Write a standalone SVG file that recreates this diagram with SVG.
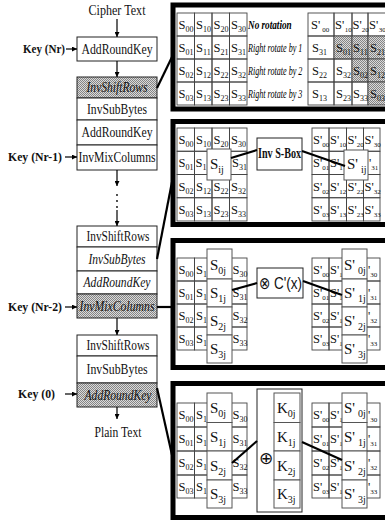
<svg xmlns="http://www.w3.org/2000/svg" width="385" height="521" viewBox="0 0 385 521">
<defs>
<pattern id="hatch" width="2" height="2" patternUnits="userSpaceOnUse">
<rect width="2" height="2" fill="#dadada"/>
<rect width="1" height="1" fill="#858585"/>
<rect x="1" y="1" width="1" height="1" fill="#858585"/>
</pattern>
<marker id="ah" viewBox="0 0 8 8" refX="8" refY="4" markerWidth="5" markerHeight="5" markerUnits="userSpaceOnUse" orient="auto"><path d="M0,0 L8,4 L0,8 z" fill="#000"/></marker>
</defs>
<style>
.bx{fill:#fff;stroke:#222;stroke-width:1}
.sh{fill:url(#hatch);stroke:#222;stroke-width:1}
.t{font-family:"Liberation Serif",serif;font-size:14px;text-anchor:middle;fill:#111}
.it{font-style:italic}
.key{font-family:"Liberation Serif",serif;font-size:12.5px;font-weight:bold;fill:#111}
.pn{fill:#fff;stroke:#000;stroke-width:5}
.gc{fill:none;stroke:#444;stroke-width:0.9}
.gs{fill:url(#hatch);stroke:#444;stroke-width:0.9}
.c{font-family:"Liberation Serif",serif;font-size:12.5px;fill:#111}
.sb{font-size:8px}
.sp{font-size:7px}
.cb{fill:#fff;stroke:#555;stroke-width:1}
.bg{font-family:"Liberation Serif",serif;font-size:15px;fill:#111}
.bsb{font-size:10px}
.lb{font-family:"Liberation Serif",serif;font-size:11.5px;font-style:italic;fill:#000}
.ln{stroke:#000;stroke-width:2.2;fill:none}
.ar{stroke:#000;stroke-width:1.2;fill:none;marker-end:url(#ah)}
</style>

<g id="flow">
<text class="t" x="117" y="15" textLength="57" lengthAdjust="spacingAndGlyphs">Cipher Text</text>
<g id="k-nr"><text class="key" x="23" y="53" textLength="42" lengthAdjust="spacingAndGlyphs">Key (Nr)</text></g>
<g id="b1"><rect class="bx" x="77" y="37" width="80" height="24"/><text class="t" x="117" y="54" textLength="71" lengthAdjust="spacingAndGlyphs">AddRoundKey</text></g>
<g id="b2"><rect class="sh" x="77" y="77" width="80" height="21"/><text class="t it" x="117" y="92" textLength="61" lengthAdjust="spacingAndGlyphs">InvShiftRows</text></g>
<g id="b3"><rect class="bx" x="77" y="98" width="80" height="22"/><text class="t" x="117" y="114" textLength="60" lengthAdjust="spacingAndGlyphs">InvSubBytes</text></g>
<g id="b4"><rect class="bx" x="77" y="120" width="80" height="25"/><text class="t" x="117" y="137" textLength="71" lengthAdjust="spacingAndGlyphs">AddRoundKey</text></g>
<g id="b5"><rect class="bx" x="77" y="145" width="80" height="25"/><text class="t" x="117" y="162" textLength="77" lengthAdjust="spacingAndGlyphs">InvMixColumns</text></g>
<g id="k-nr1"><text class="key" x="8" y="161" textLength="54" lengthAdjust="spacingAndGlyphs">Key (Nr-1)</text></g>
<g id="b6"><rect class="bx" x="77" y="226" width="80" height="21"/><text class="t" x="118" y="241" textLength="63" lengthAdjust="spacingAndGlyphs">InvShiftRows</text></g>
<g id="b7"><rect class="bx" x="77" y="247" width="80" height="24"/><text class="t it" x="117" y="264" textLength="57" lengthAdjust="spacingAndGlyphs">InvSubBytes</text></g>
<g id="b8"><rect class="bx" x="77" y="271" width="80" height="23"/><text class="t it" x="117" y="287" textLength="67" lengthAdjust="spacingAndGlyphs">AddRoundKey</text></g>
<g id="b9"><rect class="sh" x="77" y="294" width="80" height="24"/><text class="t it" x="117" y="311" textLength="75" lengthAdjust="spacingAndGlyphs">InvMixColumns</text></g>
<g id="k-nr2"><text class="key" x="8" y="311" textLength="54" lengthAdjust="spacingAndGlyphs">Key (Nr-2)</text></g>
<g id="b10"><rect class="bx" x="77" y="335" width="80" height="21"/><text class="t" x="118" y="350" textLength="63" lengthAdjust="spacingAndGlyphs">InvShiftRows</text></g>
<g id="b11"><rect class="bx" x="77" y="356" width="80" height="27"/><text class="t" x="117" y="374" textLength="61" lengthAdjust="spacingAndGlyphs">InvSubBytes</text></g>
<g id="b12"><rect class="sh" x="77" y="383" width="80" height="24"/><text class="t it" x="118" y="400" textLength="67" lengthAdjust="spacingAndGlyphs">AddRoundKey</text></g>
<g id="k-0"><text class="key" x="18" y="398" textLength="37" lengthAdjust="spacingAndGlyphs">Key (0)</text></g>
<text class="t" x="118" y="437" textLength="47" lengthAdjust="spacingAndGlyphs">Plain Text</text>
</g>

<g id="connectors">
<line class="ar" x1="117" y1="19" x2="117" y2="37"/>
<line class="ar" x1="117" y1="61" x2="117" y2="77"/>
<line class="ar" x1="117" y1="170" x2="117" y2="186"/>
<circle cx="117" cy="195" r="0.9" fill="#000"/>
<circle cx="117" cy="201" r="0.9" fill="#000"/>
<circle cx="117" cy="207" r="0.9" fill="#000"/>
<line class="ar" x1="117" y1="210" x2="117" y2="226"/>
<line class="ar" x1="117" y1="318" x2="117" y2="335"/>
<line class="ar" x1="117" y1="407" x2="117" y2="419"/>
<line class="ar" x1="66" y1="49" x2="77" y2="49"/>
<line class="ar" x1="65" y1="157" x2="77" y2="157"/>
<line class="ar" x1="65" y1="307" x2="77" y2="307"/>
<line class="ar" x1="65" y1="394" x2="77" y2="394"/>
<line class="ln" x1="157" y1="88" x2="172" y2="57"/>
<line class="ln" x1="157" y1="259" x2="172" y2="182"/>
<line class="ln" x1="157" y1="307" x2="172" y2="307" stroke-width="3"/>
<line class="ln" x1="157" y1="388" x2="172" y2="455"/>
</g>

<g id="panel1">
<rect class="pn" x="173" y="5" width="222" height="104"/>
<g>
<rect class="gc" x="177" y="13" width="17.5" height="23"/><rect class="gc" x="194.5" y="13" width="17.5" height="23"/><rect class="gc" x="212" y="13" width="17.5" height="23"/><rect class="gc" x="229.5" y="13" width="17.5" height="23"/>
<rect class="gc" x="177" y="36" width="17.5" height="23"/><rect class="gc" x="194.5" y="36" width="17.5" height="23"/><rect class="gc" x="212" y="36" width="17.5" height="23"/><rect class="gc" x="229.5" y="36" width="17.5" height="23"/>
<rect class="gc" x="177" y="59" width="17.5" height="23"/><rect class="gc" x="194.5" y="59" width="17.5" height="23"/><rect class="gc" x="212" y="59" width="17.5" height="23"/><rect class="gc" x="229.5" y="59" width="17.5" height="23"/>
<rect class="gc" x="177" y="82" width="17.5" height="23"/><rect class="gc" x="194.5" y="82" width="17.5" height="23"/><rect class="gc" x="212" y="82" width="17.5" height="23"/><rect class="gc" x="229.5" y="82" width="17.5" height="23"/>
<text class="c" x="178.5" y="29">S<tspan class="sb" dy="3">00</tspan></text><text class="c" x="196" y="29">S<tspan class="sb" dy="3">10</tspan></text><text class="c" x="213.5" y="29">S<tspan class="sb" dy="3">20</tspan></text><text class="c" x="231" y="29">S<tspan class="sb" dy="3">30</tspan></text>
<text class="c" x="178.5" y="52">S<tspan class="sb" dy="3">01</tspan></text><text class="c" x="196" y="52">S<tspan class="sb" dy="3">11</tspan></text><text class="c" x="213.5" y="52">S<tspan class="sb" dy="3">21</tspan></text><text class="c" x="231" y="52">S<tspan class="sb" dy="3">31</tspan></text>
<text class="c" x="178.5" y="75">S<tspan class="sb" dy="3">02</tspan></text><text class="c" x="196" y="75">S<tspan class="sb" dy="3">12</tspan></text><text class="c" x="213.5" y="75">S<tspan class="sb" dy="3">22</tspan></text><text class="c" x="231" y="75">S<tspan class="sb" dy="3">32</tspan></text>
<text class="c" x="178.5" y="98">S<tspan class="sb" dy="3">03</tspan></text><text class="c" x="196" y="98">S<tspan class="sb" dy="3">13</tspan></text><text class="c" x="213.5" y="98">S<tspan class="sb" dy="3">23</tspan></text><text class="c" x="231" y="98">S<tspan class="sb" dy="3">33</tspan></text>
</g>
<text class="lb" transform="translate(248,29) scale(0.8,1)" font-weight="bold">No rotation</text>
<text class="lb" transform="translate(248,52) scale(0.705,1)">Right rotate by 1</text>
<text class="lb" transform="translate(248,75) scale(0.705,1)">Right rotate by 2</text>
<text class="lb" transform="translate(248,98) scale(0.705,1)">Right rotate by 3</text>
<g>
<rect class="gc" x="308" y="13" width="26" height="23"/><rect class="gc" x="334" y="13" width="18" height="23"/><rect class="gc" x="352" y="13" width="16" height="23"/><rect class="gc" x="368" y="13" width="18" height="23"/>
<rect class="gc" x="308" y="36" width="26" height="23"/><rect class="gs" x="334" y="36" width="18" height="23"/><rect class="gs" x="352" y="36" width="16" height="23"/><rect class="gs" x="368" y="36" width="18" height="23"/>
<rect class="gc" x="308" y="59" width="26" height="23"/><rect class="gc" x="334" y="59" width="18" height="23"/><rect class="gs" x="352" y="59" width="16" height="23"/><rect class="gs" x="368" y="59" width="18" height="23"/>
<rect class="gc" x="308" y="82" width="26" height="23"/><rect class="gc" x="334" y="82" width="18" height="23"/><rect class="gc" x="352" y="82" width="16" height="23"/><rect class="gs" x="368" y="82" width="18" height="23"/>
<text class="c" x="311" y="29">S'<tspan class="sp" dx="2" dy="3">00</tspan></text><text class="c" x="335" y="29">S'<tspan class="sp" dx="0.5" dy="3">10</tspan></text><text class="c" x="352.5" y="29">S'<tspan class="sp" dy="3">20</tspan></text><text class="c" x="369" y="29">S'<tspan class="sp" dx="0.5" dy="3">30</tspan></text>
<text class="c" x="312" y="52">S<tspan class="sb" dy="3">31</tspan></text><text class="c" x="336" y="52">S<tspan class="sb" dy="3">01</tspan></text><text class="c" x="353" y="52">S<tspan class="sb" dy="3">11</tspan></text><text class="c" x="370" y="52">S<tspan class="sb" dy="3">21</tspan></text>
<text class="c" x="312" y="75">S<tspan class="sb" dy="3">22</tspan></text><text class="c" x="336" y="75">S<tspan class="sb" dy="3">32</tspan></text><text class="c" x="353" y="75">S<tspan class="sb" dy="3">02</tspan></text><text class="c" x="370" y="75">S<tspan class="sb" dy="3">12</tspan></text>
<text class="c" x="312" y="98">S<tspan class="sb" dy="3">13</tspan></text><text class="c" x="336" y="98">S<tspan class="sb" dy="3">23</tspan></text><text class="c" x="353" y="98">S<tspan class="sb" dy="3">33</tspan></text><text class="c" x="370" y="98">S<tspan class="sb" dy="3">03</tspan></text>
</g>
</g>

<g id="panel2">
<rect class="pn" x="173" y="121.5" width="222" height="103"/>
<g>
<rect class="gc" x="177" y="128" width="17.5" height="23.25"/><rect class="gc" x="194.5" y="128" width="17.5" height="23.25"/><rect class="gc" x="212" y="128" width="17.5" height="23.25"/><rect class="gc" x="229.5" y="128" width="17.5" height="23.25"/>
<rect class="gc" x="177" y="151.25" width="17.5" height="23.25"/><rect class="gc" x="194.5" y="151.25" width="17.5" height="23.25"/><rect class="gc" x="212" y="151.25" width="17.5" height="23.25"/><rect class="gc" x="229.5" y="151.25" width="17.5" height="23.25"/>
<rect class="gc" x="177" y="174.5" width="17.5" height="23.25"/><rect class="gc" x="194.5" y="174.5" width="17.5" height="23.25"/><rect class="gc" x="212" y="174.5" width="17.5" height="23.25"/><rect class="gc" x="229.5" y="174.5" width="17.5" height="23.25"/>
<rect class="gc" x="177" y="197.75" width="17.5" height="23.25"/><rect class="gc" x="194.5" y="197.75" width="17.5" height="23.25"/><rect class="gc" x="212" y="197.75" width="17.5" height="23.25"/><rect class="gc" x="229.5" y="197.75" width="17.5" height="23.25"/>
<text class="c" x="178.5" y="144">S<tspan class="sb" dy="3">00</tspan></text><text class="c" x="196" y="144">S<tspan class="sb" dy="3">10</tspan></text><text class="c" x="213.5" y="144">S<tspan class="sb" dy="3">20</tspan></text><text class="c" x="231" y="144">S<tspan class="sb" dy="3">30</tspan></text>
<text class="c" x="178.5" y="167">S<tspan class="sb" dy="3">01</tspan></text><text class="c" x="195.5" y="167">S<tspan class="sb" dy="3">1</tspan></text><text class="c" x="232" y="167">S<tspan class="sb" dy="3">31</tspan></text>
<text class="c" x="178.5" y="190.5">S<tspan class="sb" dy="3">02</tspan></text><text class="c" x="196" y="190.5">S<tspan class="sb" dy="3">12</tspan></text><text class="c" x="213.5" y="190.5">S<tspan class="sb" dy="3">22</tspan></text><text class="c" x="231" y="190.5">S<tspan class="sb" dy="3">32</tspan></text>
<text class="c" x="178.5" y="213.5">S<tspan class="sb" dy="3">03</tspan></text><text class="c" x="196" y="213.5">S<tspan class="sb" dy="3">13</tspan></text><text class="c" x="213.5" y="213.5">S<tspan class="sb" dy="3">23</tspan></text><text class="c" x="231" y="213.5">S<tspan class="sb" dy="3">33</tspan></text>
</g>
<g><rect class="cb" x="207" y="149" width="24" height="31"/><text class="bg" x="210" y="169">S<tspan class="bsb" dy="4">ij</tspan></text></g>
<g id="invsbox"><rect class="bx" x="257" y="138" width="45" height="32"/><text class="t" x="279.5" y="158" font-size="11" font-weight="bold" textLength="43" lengthAdjust="spacingAndGlyphs">Inv S-Box</text></g>
<g>
<rect class="gc" x="312" y="128" width="17" height="23.25"/><rect class="gc" x="329" y="128" width="17.5" height="23.25"/><rect class="gc" x="346.5" y="128" width="17" height="23.25"/><rect class="gc" x="363.5" y="128" width="16.5" height="23.25"/>
<rect class="gc" x="312" y="151.25" width="17" height="23.25"/><rect class="gc" x="329" y="151.25" width="17.5" height="23.25"/><rect class="gc" x="346.5" y="151.25" width="17" height="23.25"/><rect class="gc" x="363.5" y="151.25" width="16.5" height="23.25"/>
<rect class="gc" x="312" y="174.5" width="17" height="23.25"/><rect class="gc" x="329" y="174.5" width="17.5" height="23.25"/><rect class="gc" x="346.5" y="174.5" width="17" height="23.25"/><rect class="gc" x="363.5" y="174.5" width="16.5" height="23.25"/>
<rect class="gc" x="312" y="197.75" width="17" height="23.25"/><rect class="gc" x="329" y="197.75" width="17.5" height="23.25"/><rect class="gc" x="346.5" y="197.75" width="17" height="23.25"/><rect class="gc" x="363.5" y="197.75" width="16.5" height="23.25"/>
<text class="c" x="313" y="144">S'<tspan class="sp" dy="3">00</tspan></text><text class="c" x="330" y="144">S'<tspan class="sp" dy="3">10</tspan></text><text class="c" x="347.5" y="144">S'<tspan class="sp" dy="3">20</tspan></text><text class="c" x="364.5" y="144">S'<tspan class="sp" dy="3">30</tspan></text>
<text class="c" x="313" y="167">S'<tspan class="sp" dy="3">01</tspan></text><text class="c" x="330" y="167">S'<tspan class="sp" dy="3">1</tspan></text><text class="c" x="369" y="167">'<tspan class="sp" dy="3">31</tspan></text>
<text class="c" x="313" y="190.5">S'<tspan class="sp" dy="3">02</tspan></text><text class="c" x="330" y="190.5">S'<tspan class="sp" dy="3">12</tspan></text><text class="c" x="347.5" y="190.5">S'<tspan class="sp" dy="3">22</tspan></text><text class="c" x="364.5" y="190.5">S'<tspan class="sp" dy="3">32</tspan></text>
<text class="c" x="313" y="213.5">S'<tspan class="sp" dy="3">03</tspan></text><text class="c" x="330" y="213.5">S'<tspan class="sp" dy="3">13</tspan></text><text class="c" x="347.5" y="213.5">S'<tspan class="sp" dy="3">23</tspan></text><text class="c" x="364.5" y="213.5">S'<tspan class="sp" dy="3">33</tspan></text>
</g>
<g><rect class="cb" x="344" y="150" width="24" height="30"/><text class="bg" x="347" y="169">S'<tspan class="bsb" dx="3" dy="4">ij</tspan></text></g>
<line class="ln" x1="231" y1="158" x2="257" y2="150"/>
<line class="ln" x1="302" y1="151" x2="345" y2="166"/>
</g>

<g id="panel3">
<rect class="pn" x="173" y="240.5" width="222" height="127"/>
<g>
<rect class="gc" x="177" y="258" width="17.5" height="23"/><rect class="gc" x="194.5" y="258" width="17.5" height="23"/><rect class="gc" x="212" y="258" width="17.5" height="23"/><rect class="gc" x="229.5" y="258" width="17.5" height="23"/>
<rect class="gc" x="177" y="281" width="17.5" height="23"/><rect class="gc" x="194.5" y="281" width="17.5" height="23"/><rect class="gc" x="212" y="281" width="17.5" height="23"/><rect class="gc" x="229.5" y="281" width="17.5" height="23"/>
<rect class="gc" x="177" y="304" width="17.5" height="23"/><rect class="gc" x="194.5" y="304" width="17.5" height="23"/><rect class="gc" x="212" y="304" width="17.5" height="23"/><rect class="gc" x="229.5" y="304" width="17.5" height="23"/>
<rect class="gc" x="177" y="327" width="17.5" height="23"/><rect class="gc" x="194.5" y="327" width="17.5" height="23"/><rect class="gc" x="212" y="327" width="17.5" height="23"/><rect class="gc" x="229.5" y="327" width="17.5" height="23"/>
<text class="c" x="178.5" y="274">S<tspan class="sb" dy="3">00</tspan></text><text class="c" x="196" y="274">S<tspan class="sb" dy="3">1</tspan></text><text class="c" x="232.5" y="274">S<tspan class="sb" dy="3">30</tspan></text>
<text class="c" x="178.5" y="297">S<tspan class="sb" dy="3">01</tspan></text><text class="c" x="196" y="297">S<tspan class="sb" dy="3">1</tspan></text><text class="c" x="232.5" y="297">S<tspan class="sb" dy="3">31</tspan></text>
<text class="c" x="178.5" y="320">S<tspan class="sb" dy="3">02</tspan></text><text class="c" x="196" y="320">S<tspan class="sb" dy="3">1</tspan></text><text class="c" x="232.5" y="320">S<tspan class="sb" dy="3">32</tspan></text>
<text class="c" x="178.5" y="343">S<tspan class="sb" dy="3">03</tspan></text><text class="c" x="196" y="343">S<tspan class="sb" dy="3">1</tspan></text><text class="c" x="232.5" y="343">S<tspan class="sb" dy="3">33</tspan></text>
</g>
<g>
<rect class="cb" x="207" y="249" width="25" height="30"/><text class="bg" x="210" y="270">S<tspan class="bsb" dy="4">0j</tspan></text>
<rect class="cb" x="207" y="279" width="25" height="28"/><text class="bg" x="210" y="298">S<tspan class="bsb" dy="4">1j</tspan></text>
<rect class="cb" x="207" y="307" width="25" height="28"/><text class="bg" x="210" y="326">S<tspan class="bsb" dy="4">2j</tspan></text>
<rect class="cb" x="207" y="335" width="25" height="28"/><text class="bg" x="210" y="354">S<tspan class="bsb" dy="4">3j</tspan></text>
</g>
<g id="cx"><rect class="bx" x="257" y="268" width="46" height="30"/><text x="259" y="289" font-family="Liberation Sans,sans-serif" font-size="17" fill="#111" textLength="43" lengthAdjust="spacingAndGlyphs">⊗ C'(x)</text></g>
<g>
<rect class="gc" x="312" y="258" width="17" height="23"/><rect class="gc" x="329" y="258" width="17" height="23"/><rect class="gc" x="346" y="258" width="17" height="23"/><rect class="gc" x="363" y="258" width="17" height="23"/>
<rect class="gc" x="312" y="281" width="17" height="23"/><rect class="gc" x="329" y="281" width="17" height="23"/><rect class="gc" x="346" y="281" width="17" height="23"/><rect class="gc" x="363" y="281" width="17" height="23"/>
<rect class="gc" x="312" y="304" width="17" height="23"/><rect class="gc" x="329" y="304" width="17" height="23"/><rect class="gc" x="346" y="304" width="17" height="23"/><rect class="gc" x="363" y="304" width="17" height="23"/>
<rect class="gc" x="312" y="327" width="17" height="23"/><rect class="gc" x="329" y="327" width="17" height="23"/><rect class="gc" x="346" y="327" width="17" height="23"/><rect class="gc" x="363" y="327" width="17" height="23"/>
<text class="c" x="313" y="274">S'<tspan class="sp" dy="3">00</tspan></text><text class="c" x="330" y="274">S'<tspan class="sp" dy="3">1</tspan></text><text class="c" x="368" y="274">'<tspan class="sp" dy="3">30</tspan></text>
<text class="c" x="313" y="297">S'<tspan class="sp" dy="3">01</tspan></text><text class="c" x="330" y="297">S'<tspan class="sp" dy="3">1</tspan></text><text class="c" x="368" y="297">'<tspan class="sp" dy="3">31</tspan></text>
<text class="c" x="313" y="320">S'<tspan class="sp" dy="3">02</tspan></text><text class="c" x="330" y="320">S'<tspan class="sp" dy="3">1</tspan></text><text class="c" x="368" y="320">'<tspan class="sp" dy="3">32</tspan></text>
<text class="c" x="313" y="343">S'<tspan class="sp" dy="3">03</tspan></text><text class="c" x="330" y="343">S'<tspan class="sp" dy="3">1</tspan></text><text class="c" x="368" y="343">'<tspan class="sp" dy="3">33</tspan></text>
</g>
<g>
<rect class="cb" x="342" y="249" width="25" height="30"/><text class="bg" x="344" y="270">S'<tspan class="bsb" dx="3" dy="4">0j</tspan></text>
<rect class="cb" x="342" y="279" width="25" height="28"/><text class="bg" x="344" y="298">S'<tspan class="bsb" dx="3" dy="4">1j</tspan></text>
<rect class="cb" x="342" y="307" width="25" height="28"/><text class="bg" x="344" y="326">S'<tspan class="bsb" dx="3" dy="4">2j</tspan></text>
<rect class="cb" x="342" y="335" width="25" height="28"/><text class="bg" x="344" y="354">S'<tspan class="bsb" dx="3" dy="4">3j</tspan></text>
</g>
<line class="ln" x1="232" y1="290" x2="257" y2="283"/>
<line class="ln" x1="303" y1="281" x2="342" y2="295"/>
</g>

<g id="panel4">
<rect class="pn" x="173" y="383.5" width="222" height="134"/>
<g>
<rect class="gc" x="177" y="403" width="17.5" height="24"/><rect class="gc" x="194.5" y="403" width="17.5" height="24"/><rect class="gc" x="212" y="403" width="17.5" height="24"/><rect class="gc" x="229.5" y="403" width="17.5" height="24"/>
<rect class="gc" x="177" y="427" width="17.5" height="24"/><rect class="gc" x="194.5" y="427" width="17.5" height="24"/><rect class="gc" x="212" y="427" width="17.5" height="24"/><rect class="gc" x="229.5" y="427" width="17.5" height="24"/>
<rect class="gc" x="177" y="451" width="17.5" height="24"/><rect class="gc" x="194.5" y="451" width="17.5" height="24"/><rect class="gc" x="212" y="451" width="17.5" height="24"/><rect class="gc" x="229.5" y="451" width="17.5" height="24"/>
<rect class="gc" x="177" y="475" width="17.5" height="23"/><rect class="gc" x="194.5" y="475" width="17.5" height="23"/><rect class="gc" x="212" y="475" width="17.5" height="23"/><rect class="gc" x="229.5" y="475" width="17.5" height="23"/>
<text class="c" x="178.5" y="419">S<tspan class="sb" dy="3">00</tspan></text><text class="c" x="196" y="419">S<tspan class="sb" dy="3">1</tspan></text><text class="c" x="232.5" y="419">S<tspan class="sb" dy="3">30</tspan></text>
<text class="c" x="178.5" y="443">S<tspan class="sb" dy="3">01</tspan></text><text class="c" x="196" y="443">S<tspan class="sb" dy="3">1</tspan></text><text class="c" x="232.5" y="443">S<tspan class="sb" dy="3">31</tspan></text>
<text class="c" x="178.5" y="467">S<tspan class="sb" dy="3">02</tspan></text><text class="c" x="196" y="467">S<tspan class="sb" dy="3">1</tspan></text><text class="c" x="232.5" y="467">S<tspan class="sb" dy="3">32</tspan></text>
<text class="c" x="178.5" y="490.5">S<tspan class="sb" dy="3">03</tspan></text><text class="c" x="196" y="490.5">S<tspan class="sb" dy="3">1</tspan></text><text class="c" x="232.5" y="490.5">S<tspan class="sb" dy="3">33</tspan></text>
</g>
<g>
<rect class="cb" x="207" y="393" width="25" height="29.5"/><text class="bg" x="210" y="413">S<tspan class="bsb" dy="4">0j</tspan></text>
<rect class="cb" x="207" y="422.5" width="25" height="28.5"/><text class="bg" x="210" y="442">S<tspan class="bsb" dy="4">1j</tspan></text>
<rect class="cb" x="207" y="451" width="25" height="29"/><text class="bg" x="210" y="471">S<tspan class="bsb" dy="4">2j</tspan></text>
<rect class="cb" x="207" y="480" width="25" height="28"/><text class="bg" x="210" y="499">S<tspan class="bsb" dy="4">3j</tspan></text>
</g>
<g id="xork">
<rect class="bx" x="257" y="389" width="45" height="123"/>
<text x="266" y="464" font-family="DejaVu Sans,sans-serif" font-size="17" fill="#111" text-anchor="middle">⊕</text>
<rect class="cb" x="274" y="393" width="26" height="29.5"/><text class="bg" x="277" y="413">K<tspan class="bsb" dy="4">0j</tspan></text>
<rect class="cb" x="274" y="422.5" width="26" height="28.5"/><text class="bg" x="277" y="442">K<tspan class="bsb" dy="4">1j</tspan></text>
<rect class="cb" x="274" y="451" width="26" height="29"/><text class="bg" x="277" y="471">K<tspan class="bsb" dy="4">2j</tspan></text>
<rect class="cb" x="274" y="480" width="26" height="28"/><text class="bg" x="277" y="499">K<tspan class="bsb" dy="4">3j</tspan></text>
</g>
<g>
<rect class="gc" x="312" y="403" width="17" height="24"/><rect class="gc" x="329" y="403" width="17" height="24"/><rect class="gc" x="346" y="403" width="17" height="24"/><rect class="gc" x="363" y="403" width="17" height="24"/>
<rect class="gc" x="312" y="427" width="17" height="24"/><rect class="gc" x="329" y="427" width="17" height="24"/><rect class="gc" x="346" y="427" width="17" height="24"/><rect class="gc" x="363" y="427" width="17" height="24"/>
<rect class="gc" x="312" y="451" width="17" height="24"/><rect class="gc" x="329" y="451" width="17" height="24"/><rect class="gc" x="346" y="451" width="17" height="24"/><rect class="gc" x="363" y="451" width="17" height="24"/>
<rect class="gc" x="312" y="475" width="17" height="23"/><rect class="gc" x="329" y="475" width="17" height="23"/><rect class="gc" x="346" y="475" width="17" height="23"/><rect class="gc" x="363" y="475" width="17" height="23"/>
<text class="c" x="313" y="419">S'<tspan class="sp" dy="3">00</tspan></text><text class="c" x="330" y="419">S'<tspan class="sp" dy="3">1</tspan></text><text class="c" x="368" y="419">'<tspan class="sp" dy="3">30</tspan></text>
<text class="c" x="313" y="443">S'<tspan class="sp" dy="3">01</tspan></text><text class="c" x="330" y="443">S'<tspan class="sp" dy="3">1</tspan></text><text class="c" x="368" y="443">'<tspan class="sp" dy="3">31</tspan></text>
<text class="c" x="313" y="467">S'<tspan class="sp" dy="3">02</tspan></text><text class="c" x="330" y="467">S'<tspan class="sp" dy="3">1</tspan></text><text class="c" x="368" y="467">'<tspan class="sp" dy="3">32</tspan></text>
<text class="c" x="313" y="490.5">S'<tspan class="sp" dy="3">03</tspan></text><text class="c" x="330" y="490.5">S'<tspan class="sp" dy="3">1</tspan></text><text class="c" x="368" y="490.5">'<tspan class="sp" dy="3">33</tspan></text>
</g>
<g>
<rect class="cb" x="342" y="393" width="25" height="29.5"/><text class="bg" x="344" y="413">S'<tspan class="bsb" dx="3" dy="4">0j</tspan></text>
<rect class="cb" x="342" y="422.5" width="25" height="28.5"/><text class="bg" x="344" y="442">S'<tspan class="bsb" dx="3" dy="4">1j</tspan></text>
<rect class="cb" x="342" y="451" width="25" height="29"/><text class="bg" x="344" y="471">S'<tspan class="bsb" dx="3" dy="4">2j</tspan></text>
<rect class="cb" x="342" y="480" width="25" height="28"/><text class="bg" x="344" y="499">S'<tspan class="bsb" dx="3" dy="4">3j</tspan></text>
</g>
<line class="ln" x1="232" y1="463" x2="257" y2="441"/>
<line class="ln" x1="302" y1="442" x2="342" y2="460"/>
</g>
</svg>
